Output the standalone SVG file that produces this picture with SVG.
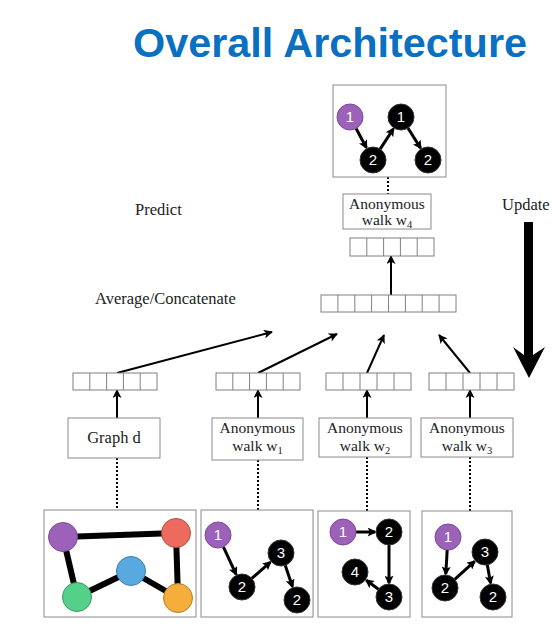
<svg xmlns="http://www.w3.org/2000/svg" width="552" height="635" viewBox="0 0 552 635">
<defs>
<marker id="ah" viewBox="0 0 10 10" markerWidth="10" markerHeight="9" refX="9" refY="5" orient="auto" markerUnits="userSpaceOnUse">
<path d="M0,0 L10,5 L0,10 L2.5,5 z" fill="#000"/>
</marker>
<marker id="nh" viewBox="0 0 10 10" markerWidth="10" markerHeight="9" refX="8" refY="5" orient="auto" markerUnits="userSpaceOnUse">
<path d="M0,0 L10,5 L0,10 L2,5 z" fill="#000"/>
</marker>
</defs>
<style>
.box{fill:#fff;stroke:#8a8a8a;stroke-width:1}
.cell{fill:#fff;stroke:#808080;stroke-width:1}
.lbl{font-family:"Liberation Serif","Times New Roman",serif;font-size:16.5px;fill:#222}
.bl{font-family:"Liberation Serif","Times New Roman",serif;font-size:15.5px;fill:#222;text-anchor:middle}
.sub{font-size:10.5px}
.arr{stroke:#000;stroke-width:2;fill:none;marker-end:url(#ah)}
.dot{stroke:#000;stroke-width:2;stroke-dasharray:2,2;fill:none}
.narr{stroke:#000;stroke-width:3;fill:none;marker-end:url(#nh)}
.bn{fill:#000;stroke:#333;stroke-width:1}
.pn{fill:#9C62B9;stroke:#7B4A95;stroke-width:1}
.nt{font-family:"Liberation Sans",Arial,sans-serif;font-size:15px;fill:#fff;text-anchor:middle}
.edge{stroke:#000;stroke-width:6}
</style>
<rect width="552" height="635" fill="#fff"/>
<text x="133" y="57" font-family="Liberation Sans,Arial,sans-serif" font-weight="bold" font-size="40" fill="#0A70C2" textLength="394" lengthAdjust="spacingAndGlyphs">Overall Architecture</text>

<g id="labels">
<text class="lbl" x="135" y="215">Predict</text>
<text class="lbl" x="95" y="304">Average/Concatenate</text>
<text class="lbl" x="502" y="210">Update</text>
</g>

<g id="update-arrow">
<polygon points="524,222 533,222 533,355 545,347 529,378 513,347 524,355" fill="#000"/>
</g>

<g id="connectors">
<line class="dot" x1="388" y1="177" x2="388" y2="194"/>
<line class="dot" x1="117" y1="458" x2="117" y2="510"/>
<line class="dot" x1="258" y1="460" x2="258" y2="510"/>
<line class="dot" x1="367" y1="457" x2="367" y2="511"/>
<line class="dot" x1="470" y1="457" x2="470" y2="511"/>
<line class="arr" x1="391" y1="295" x2="391" y2="256"/>
<line class="arr" x1="117" y1="418" x2="117" y2="390"/>
<line class="arr" x1="258" y1="418" x2="258" y2="390"/>
<line class="arr" x1="367" y1="418" x2="367" y2="390"/>
<line class="arr" x1="470" y1="418" x2="470" y2="390"/>
<line class="arr" x1="117" y1="373" x2="272" y2="332"/>
<line class="arr" x1="258" y1="373" x2="337" y2="334"/>
<line class="arr" x1="367" y1="373" x2="384" y2="335"/>
<line class="arr" x1="470" y1="373" x2="439" y2="335"/>
</g>

<g id="predicted-walk">
<rect class="box" x="333" y="85" width="113" height="92"/>
<line class="narr" x1="356.1" y1="128.5" x2="366.4" y2="147.7"/>
<line class="narr" x1="380.1" y1="149.1" x2="393.4" y2="128.7"/>
<line class="narr" x1="407.9" y1="128" x2="420.6" y2="148.1"/>
<circle class="pn" cx="350" cy="117" r="13"/><text class="nt" x="350" y="122">1</text>
<circle class="bn" cx="401" cy="117" r="13"/><text class="nt" x="401" y="122">1</text>
<circle class="bn" cx="373" cy="160" r="13"/><text class="nt" x="373" y="165">2</text>
<circle class="bn" cx="428" cy="160" r="13"/><text class="nt" x="428" y="165">2</text>
</g>

<g id="w4-box">
<rect class="box" x="343" y="194" width="88" height="35"/>
<text class="bl" x="387" y="208.5">Anonymous</text>
<text class="bl" x="387" y="225">walk w<tspan class="sub" dy="3">4</tspan></text>
</g>

<g id="w4-vector">
<rect class="cell" x="350" y="238" width="84" height="18"/>
<path class="cell" d="M366.8,238V256M383.6,238V256M400.4,238V256M417.2,238V256"/>
</g>

<g id="avg-vector">
<rect class="cell" x="321" y="295" width="135" height="17"/>
<path class="cell" d="M337.9,295V312M354.8,295V312M371.6,295V312M388.5,295V312M405.4,295V312M422.2,295V312M439.1,295V312"/>
</g>

<g id="vec-d">
<rect class="cell" x="73" y="373" width="84" height="17"/>
<path class="cell" d="M89.8,373V390M106.6,373V390M123.4,373V390M140.2,373V390"/>
</g>
<g id="vec-w1">
<rect class="cell" x="216" y="373" width="84" height="17"/>
<path class="cell" d="M232.8,373V390M249.6,373V390M266.4,373V390M283.2,373V390"/>
</g>
<g id="vec-w2">
<rect class="cell" x="326" y="373" width="85" height="17"/>
<path class="cell" d="M343,373V390M360,373V390M377,373V390M394,373V390"/>
</g>
<g id="vec-w3">
<rect class="cell" x="429" y="373" width="85" height="17"/>
<path class="cell" d="M446,373V390M463,373V390M480,373V390M497,373V390"/>
</g>

<g id="graph-d-box">
<rect class="box" x="68" y="418" width="92" height="40"/>
<text class="lbl" x="114" y="443" text-anchor="middle">Graph d</text>
</g>
<g id="w1-box">
<rect class="box" x="212" y="418" width="91" height="42"/>
<text class="bl" x="257.5" y="432.5">Anonymous</text>
<text class="bl" x="257.5" y="450.5">walk w<tspan class="sub" dy="3">1</tspan></text>
</g>
<g id="w2-box">
<rect class="box" x="319" y="418" width="92" height="39"/>
<text class="bl" x="365" y="432.5">Anonymous</text>
<text class="bl" x="365" y="450.5">walk w<tspan class="sub" dy="3">2</tspan></text>
</g>
<g id="w3-box">
<rect class="box" x="421" y="418" width="92" height="39"/>
<text class="bl" x="467" y="432.5">Anonymous</text>
<text class="bl" x="467" y="450.5">walk w<tspan class="sub" dy="3">3</tspan></text>
</g>

<g id="graph-panel">
<rect class="box" x="44" y="510" width="152" height="107"/>
<line class="edge" x1="63" y1="537" x2="176" y2="533"/>
<line class="edge" x1="63" y1="537" x2="77" y2="597"/>
<line class="edge" x1="77" y1="597" x2="131" y2="571"/>
<line class="edge" x1="131" y1="571" x2="178" y2="598"/>
<line class="edge" x1="176" y1="533" x2="178" y2="598"/>
<circle cx="63" cy="537" r="14.5" fill="#9C62B9" stroke="#7B4A95"/>
<circle cx="176" cy="533" r="14.5" fill="#EC6B5E" stroke="#B0503F"/>
<circle cx="131" cy="571" r="14.5" fill="#57A9DF" stroke="#3F7EA8"/>
<circle cx="77" cy="597" r="14.5" fill="#55D08A" stroke="#3A9A63"/>
<circle cx="178" cy="598" r="14.5" fill="#F5AD3C" stroke="#B87F2A"/>
</g>

<g id="w1-panel">
<rect class="box" x="201" y="510" width="112" height="107"/>
<line class="narr" x1="223.4" y1="546.8" x2="236.1" y2="574.3"/>
<line class="narr" x1="251.8" y1="578.4" x2="270.4" y2="562.2"/>
<line class="narr" x1="285.2" y1="565.3" x2="292.5" y2="586.7"/>
<circle class="pn" cx="218" cy="535" r="13"/><text class="nt" x="218" y="540">1</text>
<circle class="bn" cx="242" cy="587" r="13"/><text class="nt" x="242" y="592">2</text>
<circle class="bn" cx="281" cy="553" r="13"/><text class="nt" x="281" y="558">3</text>
<circle class="bn" cx="297" cy="600" r="13"/><text class="nt" x="297" y="605">2</text>
</g>

<g id="w2-panel">
<rect class="box" x="318" y="511" width="92" height="106"/>
<line class="narr" x1="356" y1="532" x2="375" y2="532"/>
<line class="narr" x1="389" y1="545" x2="389" y2="583"/>
<line class="narr" x1="378.5" y1="589.3" x2="366.3" y2="580.3"/>
<circle class="pn" cx="343" cy="532" r="13"/><text class="nt" x="343" y="537">1</text>
<circle class="bn" cx="389" cy="532" r="13"/><text class="nt" x="389" y="537">2</text>
<circle class="bn" cx="355" cy="572" r="13"/><text class="nt" x="355" y="577">4</text>
<circle class="bn" cx="389" cy="597" r="13"/><text class="nt" x="389" y="602">3</text>
</g>

<g id="w3-panel">
<rect class="box" x="422" y="511" width="90" height="106"/>
<line class="narr" x1="447.2" y1="550" x2="445.8" y2="574"/>
<line class="narr" x1="454.7" y1="579.3" x2="474.6" y2="561.4"/>
<line class="narr" x1="487.3" y1="564.8" x2="490.6" y2="583.2"/>
<circle class="pn" cx="448" cy="537" r="13"/><text class="nt" x="448" y="542">1</text>
<circle class="bn" cx="485" cy="552" r="13"/><text class="nt" x="485" y="557">3</text>
<circle class="bn" cx="445" cy="588" r="13"/><text class="nt" x="445" y="593">2</text>
<circle class="bn" cx="493" cy="597" r="13"/><text class="nt" x="493" y="602">2</text>
</g>
</svg>
